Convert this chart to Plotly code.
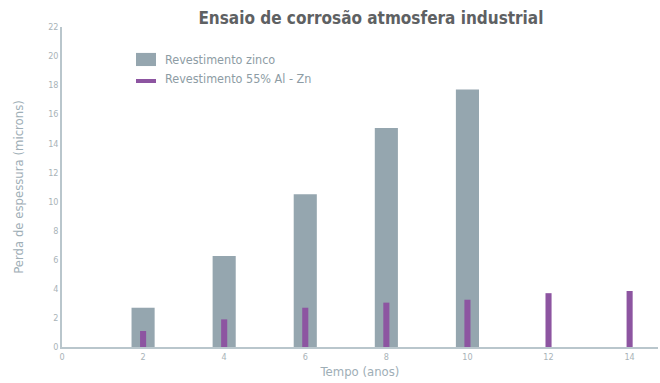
import plotly.graph_objects as go

# Years of exposure and thickness loss (microns)
anos_zinco = [2, 4, 6, 8, 10]
perda_zinco = [2.7, 6.25, 10.5, 15.05, 17.7]

anos_alzn = [2, 4, 6, 8, 10, 12, 14]
perda_alzn = [1.1, 1.9, 2.7, 3.05, 3.25, 3.7, 3.85]

y_ticks = list(range(0, 23, 2))
x_ticks = list(range(0, 15, 2))

nome_zinco = "Revestimento zinco"
nome_alzn = "Revestimento 55% Al - Zn"

COR_ZINCO = "#95a6af"
COR_ALZN = "#8d55a1"
COR_EIXO = "#b9c6cc"
COR_TEXTO = "#9eaeb6"
FONTE = "DejaVu Sans Condensed, Liberation Sans Narrow, Arial"

fig = go.Figure()

fig.add_trace(go.Bar(
    x=anos_zinco, y=perda_zinco, width=0.57,
    marker=dict(color=COR_ZINCO, line=dict(width=0)),
    name=nome_zinco, showlegend=False,
))
fig.add_trace(go.Bar(
    x=anos_alzn, y=perda_alzn, width=0.15,
    marker=dict(color=COR_ALZN, line=dict(width=0)),
    name=nome_alzn, showlegend=False,
))

# hand-drawn legend: swatches + labels in paper coordinates
fig.add_shape(type="rect", xref="paper", yref="paper",
              x0=0.1242, x1=0.1577, y0=0.878, y1=0.919,
              fillcolor=COR_ZINCO, line=dict(width=0))
fig.add_shape(type="rect", xref="paper", yref="paper",
              x0=0.1242, x1=0.1577, y0=0.825, y1=0.8375,
              fillcolor=COR_ALZN, line=dict(width=0))
fig.add_annotation(xref="paper", yref="paper", x=0.1695, y=0.897,
                   text=nome_zinco, showarrow=False, xanchor="left", yanchor="middle",
                   font=dict(size=12.5, color="#8d9ca4", family=FONTE))
fig.add_annotation(xref="paper", yref="paper", x=0.1695, y=0.84,
                   text=nome_alzn, showarrow=False, xanchor="left", yanchor="middle",
                   font=dict(size=12.5, color="#8d9ca4", family=FONTE))

fig.update_layout(
    width=660, height=383,
    margin=dict(l=62, r=2, t=27, b=36),
    paper_bgcolor="white", plot_bgcolor="white",
    barmode="overlay",
    showlegend=False,
    font=dict(family=FONTE, color=COR_TEXTO),
    title=dict(
        text="<b>Ensaio de corrosão atmosfera industrial</b>",
        x=0.562, xanchor="center", y=0.952, yanchor="middle",
        font=dict(size=17, color="#5e6163", family=FONTE),
    ),
)

fig.update_xaxes(
    range=[0, 14.7], tickvals=x_ticks, ticktext=[str(v) for v in x_ticks],
    showgrid=False, zeroline=False, showline=True, linecolor=COR_EIXO, linewidth=1.5,
    ticks="", tickfont=dict(size=9, color="#a9b3b8"),
    title=dict(text="Tempo (anos)", font=dict(size=13, color=COR_TEXTO), standoff=6),
)
fig.update_yaxes(
    range=[0, 22], tickvals=y_ticks, ticktext=[str(v) for v in y_ticks],
    showgrid=False, zeroline=False, showline=True, linecolor=COR_EIXO, linewidth=1.5,
    ticks="", tickfont=dict(size=9, color="#a9b3b8"),
    title=dict(text="Perda de espessura (microns)", font=dict(size=13, color=COR_TEXTO), standoff=22),
)

fig.write_html("out.html")
